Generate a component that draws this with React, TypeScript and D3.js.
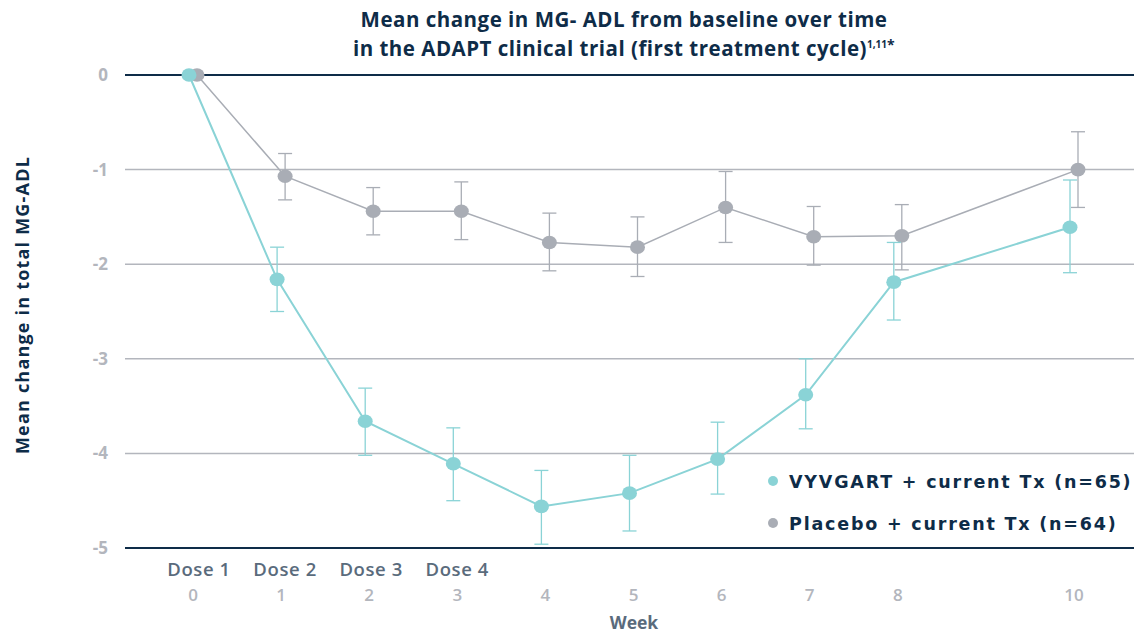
import * as d3 from "d3";

const weeks = [0, 1, 2, 3, 4, 5, 6, 7, 8, 10];
const vyvgartMean = [0, -2.16, -3.66, -4.11, -4.56, -4.42, -4.06, -3.38, -2.19, -1.61];
const vyvgartUpper = [null, -1.82, -3.31, -3.73, -4.18, -4.02, -3.67, -3.0, -1.77, -1.11];
const vyvgartLower = [null, -2.5, -4.02, -4.5, -4.96, -4.82, -4.43, -3.74, -2.59, -2.09];
const placeboMean = [0, -1.07, -1.44, -1.44, -1.77, -1.82, -1.4, -1.71, -1.7, -1.0];
const placeboUpper = [null, -0.83, -1.19, -1.13, -1.46, -1.5, -1.02, -1.39, -1.37, -0.6];
const placeboLower = [null, -1.32, -1.69, -1.74, -2.07, -2.13, -1.77, -2.01, -2.06, -1.4];
const yTicks = [0, -1, -2, -3, -4, -5];
const doseLabels = ["Dose 1", "Dose 2", "Dose 3", "Dose 4"];

const W = 1134;
const H = 635;
const TEAL = "#8ad3d6";
const GRAY = "#a9adb5";
const NAVY = "#0e2c48";
const FONT = "'Open Sans', sans-serif";

const x = d3.scaleLinear().domain([0, 10]).range([193, 1074]);
const y = d3.scaleLinear().domain([0, -5]).range([75, 548]);

type Series = {
  mean: number[];
  upper: (number | null)[];
  lower: (number | null)[];
  color: string;
  dx: number;
  width: number;
};

const series: Series[] = [
  { mean: placeboMean, upper: placeboUpper, lower: placeboLower, color: GRAY, dx: 4, width: 1.5 },
  { mean: vyvgartMean, upper: vyvgartUpper, lower: vyvgartLower, color: TEAL, dx: -4, width: 2 },
];

const SeriesMarks = ({ s }: { s: Series }) => {
  const line = d3
    .line<number>()
    .x((_, i) => x(weeks[i]) + s.dx)
    .y((d) => y(d));
  return (
    <g>
      {s.mean.map((_, i) => {
        const up = s.upper[i];
        const lo = s.lower[i];
        if (up == null || lo == null) return null;
        const cx = x(weeks[i]) + s.dx;
        return (
          <g key={i} stroke={s.color} strokeWidth={1.3}>
            <line x1={cx} x2={cx} y1={y(up)} y2={y(lo)} />
            <line x1={cx - 7} x2={cx + 7} y1={y(up)} y2={y(up)} />
            <line x1={cx - 7} x2={cx + 7} y1={y(lo)} y2={y(lo)} />
          </g>
        );
      })}
      <path d={line(s.mean) ?? ""} fill="none" stroke={s.color} strokeWidth={s.width} />
      {s.mean.map((d, i) => (
        <ellipse key={i} cx={x(weeks[i]) + s.dx} cy={y(d)} rx={7.5} ry={6.8} fill={s.color} />
      ))}
    </g>
  );
};

export default function App() {
  return (
    <div style={{ position: "absolute", left: 0, top: 0 }}>
      <svg width={W} height={H} viewBox={`0 0 ${W} ${H}`} style={{ display: "block" }} fontFamily={FONT}>
        <rect width={W} height={H} fill="#fff" />
        <g fill={NAVY} fontWeight={700} fontSize={20.5} textAnchor="middle" letterSpacing={0.5}>
          <text x={624} y={27}>Mean change in MG- ADL from baseline over time</text>
          <text x={624} y={56}>
            in the ADAPT clinical trial (first treatment cycle)
            <tspan fontSize={10} dy={-8} letterSpacing={0}>1,11</tspan>
            <tspan fontSize={14} dy={2}>*</tspan>
          </text>
        </g>

        {yTicks.map((t) => (
          <g key={t}>
            <line
              x1={125}
              x2={W}
              y1={y(t)}
              y2={y(t)}
              stroke={t === 0 || t === -5 ? NAVY : "#b3b6bd"}
              strokeWidth={t === 0 || t === -5 ? 2.2 : 1.5}
            />
            <text x={108} y={y(t) + 6} textAnchor="end" fill="#b3b6bd" fontWeight={700} fontSize={17}>
              {t}
            </text>
          </g>
        ))}

        <text
          transform={`translate(29, 305) rotate(-90)`}
          textAnchor="middle"
          fill={NAVY}
          fontWeight={700}
          fontSize={18}
          letterSpacing={1.2}
        >
          Mean change in total MG-ADL
        </text>

        {series.map((s, i) => (
          <SeriesMarks key={i} s={s} />
        ))}

        {doseLabels.map((d, i) => (
          <text key={d} x={x(weeks[i]) + 6 - i * 2} y={576} textAnchor="middle" fill="#5a6b7c" fontWeight={600} fontSize={18.5} letterSpacing={0.6}>
            {d}
          </text>
        ))}
        {weeks.map((w) => (
          <text key={w} x={x(w)} y={601} textAnchor="middle" fill="#b3b6bd" fontWeight={600} fontSize={17}>
            {w}
          </text>
        ))}
        <text x={634} y={629} textAnchor="middle" fill="#5a6b7c" fontWeight={700} fontSize={17.5}>
          Week
        </text>

        {[
          { label: "VYVGART + current Tx (n=65)", color: TEAL },
          { label: "Placebo + current Tx (n=64)", color: GRAY },
        ].map((l, i) => (
          <g key={l.label} transform={`translate(773, ${481 + i * 42})`}>
            <circle r={5} fill={l.color} />
            <text
              x={16}
              y={7}
              fill={NAVY}
              fontFamily="'DejaVu Sans', sans-serif"
              fontWeight={700}
              fontSize={17.5}
              letterSpacing={1.8}
            >
              {l.label}
            </text>
          </g>
        ))}
      </svg>
    </div>
  );
}
